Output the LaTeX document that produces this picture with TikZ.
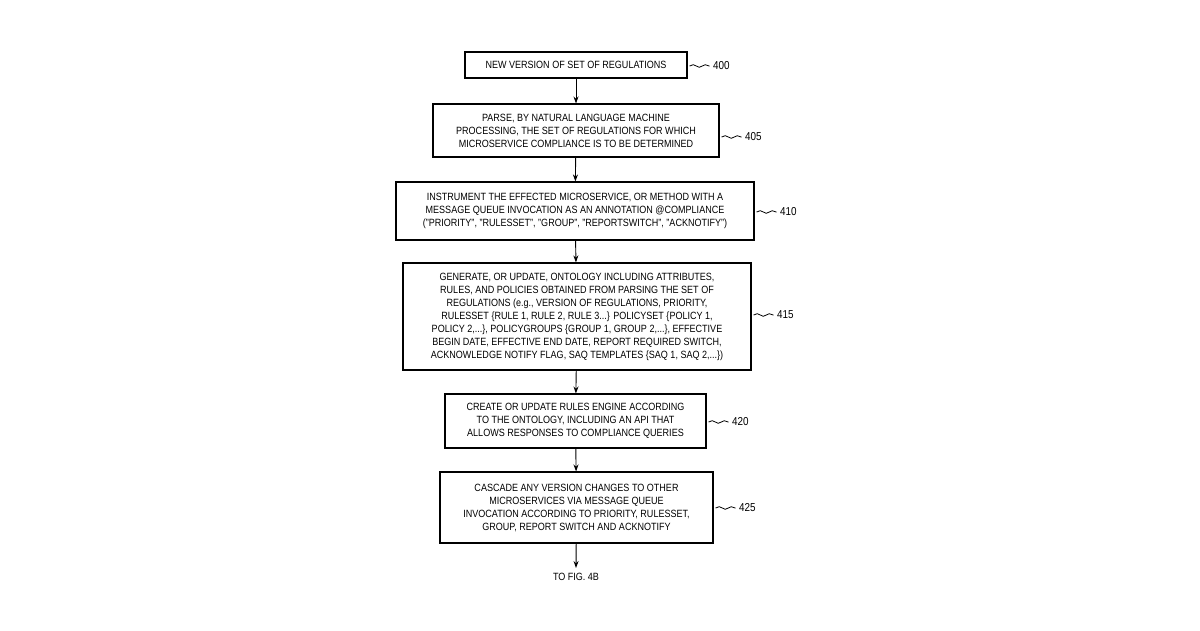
\documentclass[tikz,border=0pt]{standalone}
\usepackage{fontspec}
\setmainfont{Liberation Sans}[FakeStretch=0.86]
\usetikzlibrary{arrows.meta,decorations.pathmorphing}
\begin{document}
\begin{tikzpicture}[x=1pt,y=-1pt,
 box/.style={draw,line width=1.1pt,align=center,font=\fontsize{10.5}{13}\selectfont,inner sep=0pt,minimum height=#1},
 lab/.style={font=\fontsize{11.5}{13}\selectfont},
 arr/.style={-{Stealth[length=7pt,width=5pt]},line width=0.9pt},
 sq/.style={decorate,decoration={snake,amplitude=1.3pt,segment length=12pt},line width=0.8pt}]
\useasboundingbox (0,0) rectangle (1200,630);
\node[box=26pt,minimum width=222pt] (b400) at (576,65) {NEW VERSION OF SET OF REGULATIONS};
\node[box=53pt,minimum width=286pt] (b405) at (576,130.5) {PARSE, BY NATURAL LANGUAGE MACHINE\\PROCESSING, THE SET OF REGULATIONS FOR WHICH\\MICROSERVICE COMPLIANCE IS TO BE DETERMINED};
\node[box=58pt,minimum width=358pt] (b410) at (575,211) {INSTRUMENT THE EFFECTED MICROSERVICE, OR METHOD WITH A\\MESSAGE QUEUE INVOCATION AS AN ANNOTATION @COMPLIANCE\\("PRIORITY", "RULESSET", "GROUP", "REPORTSWITCH", "ACKNOTIFY")};
\node[box=107pt,minimum width=348pt] (b415) at (577,316.5) {GENERATE, OR UPDATE, ONTOLOGY INCLUDING ATTRIBUTES,\\RULES, AND POLICIES OBTAINED FROM PARSING THE SET OF\\REGULATIONS (e.g., VERSION OF REGULATIONS, PRIORITY,\\RULESSET \{RULE 1, RULE 2, RULE 3...\} POLICYSET \{POLICY 1,\\POLICY 2,...\}, POLICYGROUPS \{GROUP 1, GROUP 2,...\}, EFFECTIVE\\BEGIN DATE, EFFECTIVE END DATE, REPORT REQUIRED SWITCH,\\ACKNOWLEDGE NOTIFY FLAG, SAQ TEMPLATES \{SAQ 1, SAQ 2,...\})};
\node[box=54pt,minimum width=261pt] (b420) at (575.5,421) {CREATE OR UPDATE RULES ENGINE ACCORDING\\TO THE ONTOLOGY, INCLUDING AN API THAT\\ALLOWS RESPONSES TO COMPLIANCE QUERIES};
\node[box=71pt,minimum width=273pt] (b425) at (576.5,507.5) {CASCADE ANY VERSION CHANGES TO OTHER\\MICROSERVICES VIA MESSAGE QUEUE\\INVOCATION ACCORDING TO PRIORITY, RULESSET,\\GROUP, REPORT SWITCH AND ACKNOTIFY};
\coordinate (end) at (576,568);
\node[font=\fontsize{10.5}{13}\selectfont] (to) at (576,577) {TO FIG. 4B};
\draw[arr] (b400) -- (b405);
\draw[arr] (b405) -- (b410);
\draw[arr] (b410) -- (b415);
\draw[arr] (b415) -- (b420);
\draw[arr] (b420) -- (b425);
\draw[arr] (b425) -- (end);
\foreach \n/\t/\y in {400/400/66,405/405/137,410/410/212,415/415/315,420/420/422,425/425/508}{
 \node[lab,anchor=west] (l\n) at ([xshift=22pt]b\n.east |- 0,\y) {\t};
 \draw[sq] ([xshift=2pt]b\n.east |- 0,\y) -- (l\n.west);
}
\end{tikzpicture}
\end{document}
